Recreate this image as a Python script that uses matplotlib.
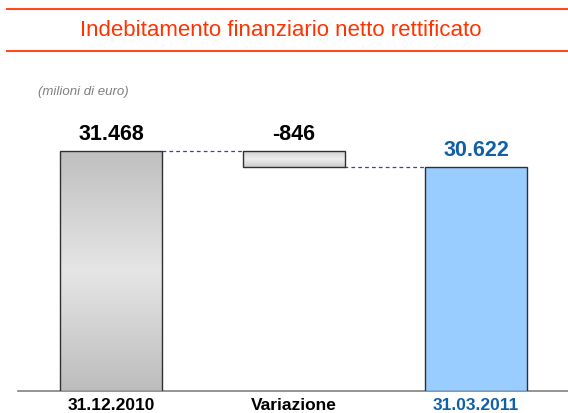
import matplotlib
matplotlib.use("Agg")
import matplotlib.pyplot as plt
import numpy as np
from matplotlib.lines import Line2D

categories = ["31.12.2010", "Variazione", "31.03.2011"]
start_value = 31468
change_value = -846
end_value = 30622
value_labels = ["31.468", "-846", "30.622"]

W, H = 568, 414
fig = plt.figure(figsize=(W / 100, H / 100), dpi=100)

# Title band
fig.add_artist(Line2D([7 / W, 1], [1 - 10 / H, 1 - 10 / H], color="#FF4A1C", lw=1.5))
fig.add_artist(Line2D([7 / W, 1], [1 - 52 / H, 1 - 52 / H], color="#FF4A1C", lw=1.5))
fig.text(281 / W, 1 - 30 / H, "Indebitamento finanziario netto rettificato",
         ha="center", va="center", color="#FF3300", fontsize=16,
         family="Liberation Sans")
fig.text(38 / W, 1 - 92 / H, "(milioni di euro)", ha="left", va="center",
         color="#808080", fontsize=9.5, style="italic", family="Liberation Sans")

# Axes geometry
left_px, right_px = 18, 568
base_px, top_px = 392, 110
ax = fig.add_axes([left_px / W, 1 - base_px / H, (right_px - left_px) / W, (base_px - top_px) / H])
unit_px = 182.5
ax.set_xlim((left_px - 111) / unit_px, (right_px - 111) / unit_px)
px_per_val = 16 / 846
ymin = start_value - 240 / px_per_val
ax.set_ylim(ymin, ymin + (base_px - top_px) / px_per_val)
for s in ["top", "right", "left"]:
    ax.spines[s].set_visible(False)
ax.spines["bottom"].set_color("#808080")
ax.spines["bottom"].set_linewidth(1.2)
ax.set_yticks([])
ax.set_xticks([])
ax.patch.set_alpha(0)

x = np.arange(3)
width = 102 / unit_px
bottoms = [ymin, end_value, ymin]
heights = [start_value - ymin, start_value - end_value, end_value - ymin]
faces = ["#C8C8C8", "#E4E4E4", "#99CCFF"]
bars = ax.bar(x, heights, bottom=bottoms, width=width, color=faces,
              edgecolor="#303030", linewidth=1.0, zorder=3)

# gradients
grad1 = np.interp(np.linspace(0, 1, 256), [0, 0.5, 1], [0.74, 0.90, 0.75])
grad2 = np.interp(np.linspace(0, 1, 256), [0, 0.5, 1], [0.80, 0.93, 0.82])
for b, g in [(bars[0], grad1), (bars[1], grad2)]:
    x0, y0 = b.get_x(), b.get_y()
    im = ax.imshow(np.stack([g, g, g], axis=-1)[:, None, :].repeat(2, axis=1),
                   extent=[x0, x0 + b.get_width(), y0, y0 + b.get_height()],
                   aspect="auto", origin="lower", zorder=3.5, interpolation="bilinear")
    im.set_clip_path(b)
    b.set_facecolor("none")
    b.set_zorder(4)
ax.set_xlim((left_px - 111) / unit_px, (right_px - 111) / unit_px)
ax.set_ylim(ymin, ymin + (base_px - top_px) / px_per_val)

# connectors
ax.plot([x[0] + width / 2, x[1] - width / 2], [start_value, start_value],
        ls=(0, (3, 2.5)), color="#4040A0", lw=0.9, zorder=2)
ax.plot([x[1] + width / 2, x[2] - width / 2], [end_value, end_value],
        ls=(0, (3, 2.5)), color="#4040A0", lw=0.9, zorder=2)

# value labels
tops = [start_value, start_value, end_value]
lab_colors = ["black", "black", "#1060A8"]
for i in range(3):
    ax.annotate(value_labels[i], (x[i], tops[i]), xytext=(0, 5), textcoords="offset points",
                ha="center", va="bottom", fontsize=15.5, fontweight="bold", color=lab_colors[i],
                family="Liberation Sans")

# category labels
cat_colors = ["black", "black", "#1060A8"]
for i in range(3):
    ax.text(x[i], ymin - 6 / px_per_val, categories[i], ha="center", va="top",
            fontsize=12.5, fontweight="bold", color=cat_colors[i], family="Liberation Sans",
            clip_on=False)

fig.savefig("out.png", dpi=100)
